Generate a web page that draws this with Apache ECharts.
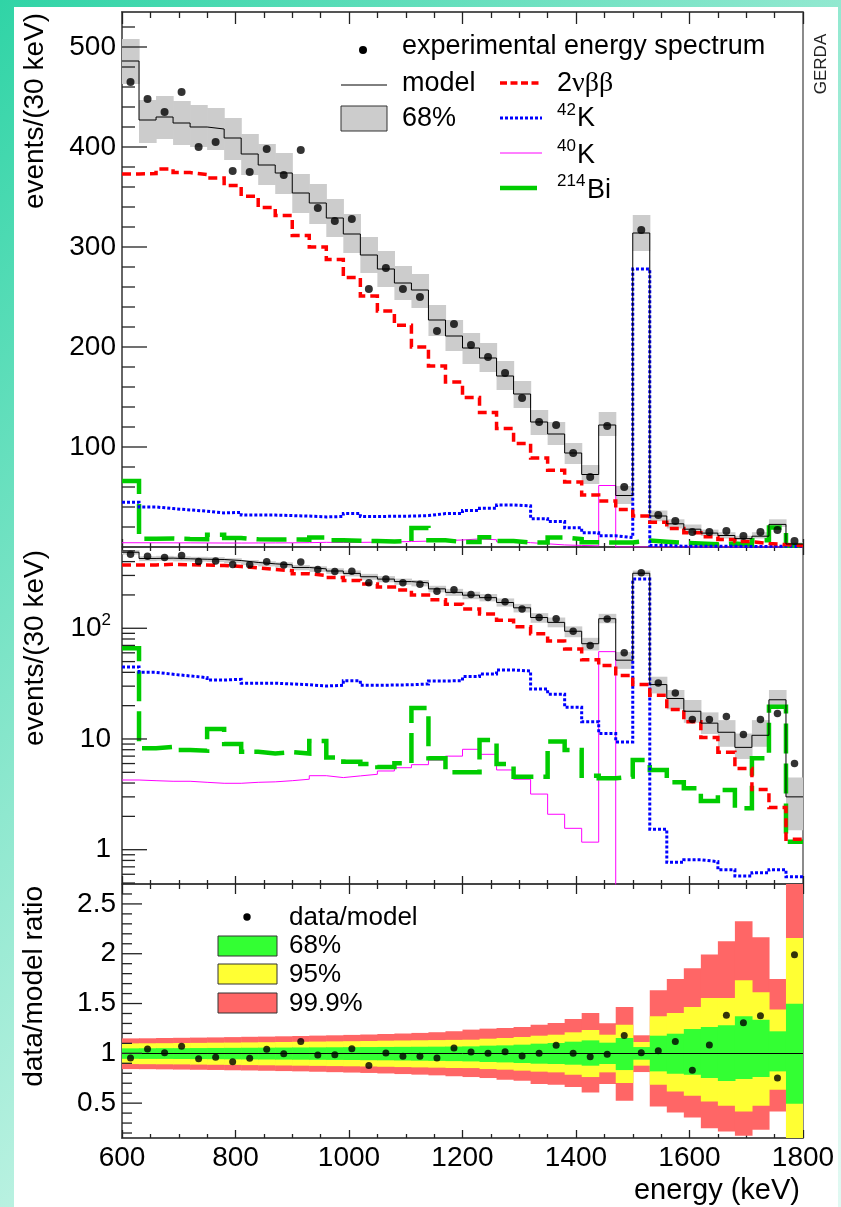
<!DOCTYPE html>
<html><head><meta charset="utf-8">
<script src="https://cdn.jsdelivr.net/npm/echarts@6/dist/echarts.min.js"></script>
<style>
html,body{margin:0;padding:0;overflow:hidden;}
#bg{position:absolute;left:0;top:0;width:841px;height:1207px;background:linear-gradient(135deg,#30d4a6 0%,#8fe8cf 40%,#cff6ea 70%,#e0f9f2 100%);}
#paper{position:absolute;left:14px;top:7px;width:824px;height:1200px;background:#fff;}
#chart{position:absolute;left:0;top:0;width:841px;height:1207px;}
</style></head><body>
<div id="bg"></div><div id="paper"></div><div id="chart"></div>
<script>
// ---------------- data ----------------
const binEdges = [600,630,660,690,720,750,780,810,840,870,900,930,960,990,1020,1050,1080,1110,1140,1170,1200,1230,1260,1290,1320,1350,1380,1410,1440,1470,1500,1530,1560,1590,1620,1650,1680,1710,1740,1770,1800];
const dataCounts = [465,448,435,455,400,405,376,375,398,372,397,339,326,328,258,279,258,250,216,223,202,190,174,149,125,122,94,70,121,60,317,32,26,15,15,16,11,15,17,6];
const modelCounts = [486,427,430,424,420,418,409,393,382,374,354,344,329,313,292,278,264,257,227,211,199,189,171,153,125,113,94,72.5,122,51.5,314,31,23.2,17.8,13.9,11.5,8.4,10.8,22.6,3.0];
const band68Hi = [508,447,451,446,442,439,429,413,403,394,373,363,348,333,310,296,281,273,242,227,214,204,186,166,137,125,104,82,135,61,332,36.5,27.7,22.5,17.4,14.8,11.2,14.8,27.7,4.5];
const band68Lo = [463,404,408,402,400,397,387,372,362,353,334,323,310,294,274,260,247,239,211,196,183,175,157,139,112,102,83,63,111,43,296,25.8,18.5,14.0,11.1,8.5,6.6,8.5,20.0,1.5];
const nu2bb = [373,373.4,378,374.4,372.4,369,361.4,350.7,339.4,331.4,311.4,300,287.4,269.4,251,236,221.7,200,181,165,149.4,134.4,118.4,103.4,89,76.7,65,52,46,37.5,31,24.8,18.5,14.3,10.3,7.6,5.4,3.5,2.4,1.24];
const k42 = [44.7,40,38.4,37.1,35.8,34.1,34.6,31.9,31.9,31.4,30.9,30.1,30.5,33.6,30.5,30.7,30.9,31.4,33.4,33.6,36.6,38.7,42,41.1,28.3,25.4,19.3,14.3,11.2,9.4,278,1.53,0.77,0.81,0.78,0.66,0.58,0.62,0.66,0.57];
const k40 = [4.26,4.2,4.15,4.15,4.06,3.98,3.98,4.06,4.1,4.2,4.33,4.66,4.48,4.64,4.8,5.14,5.5,5.86,6.45,7.0,8.07,7.27,5.25,4.33,3.18,2.09,1.56,1.17,61.5,0.001,0.001,0.001,0.001,0.001,0.001,0.001,0.001,0.001,0.001,0.001];
const bi214 = [65.9,8.24,8.5,7.94,7.84,12.3,9.0,7.67,7.4,7.6,7.4,9.6,6.8,6.24,5.94,5.58,6.03,19,6.7,5.0,5.0,9.8,5.94,4.57,4.57,9.5,7.94,4.66,4.41,4.57,6.45,5.25,4.06,3.59,2.75,3.46,2.37,6.7,19.6,1.18];
const ratioData = [0.953,1.043,1.006,1.07,0.946,0.96,0.916,0.95,1.04,0.996,1.12,0.983,0.986,1.046,0.879,1.003,0.97,0.97,0.953,1.053,1.013,1.0,1.016,0.973,1.0,1.08,1.0,0.966,0.99,1.18,1.006,1.026,1.12,0.829,1.083,1.382,1.308,1.378,0.752,1.99];
const ratioRedHi = [1.150,1.151,1.154,1.156,1.158,1.160,1.163,1.166,1.168,1.171,1.174,1.178,1.181,1.185,1.189,1.194,1.199,1.205,1.212,1.222,1.238,1.248,1.254,1.264,1.288,1.305,1.345,1.405,1.301,1.465,1.181,1.633,1.747,1.854,1.991,2.125,2.326,2.166,1.747,3.0];
const ratioYelHi = [1.100,1.101,1.102,1.104,1.105,1.107,1.108,1.110,1.112,1.114,1.116,1.118,1.120,1.122,1.124,1.127,1.129,1.131,1.133,1.135,1.137,1.147,1.154,1.164,1.177,1.187,1.211,1.234,1.187,1.288,1.114,1.372,1.405,1.465,1.556,1.556,1.733,1.613,1.439,2.159];
const ratioGrnHi = [1.050,1.051,1.052,1.052,1.053,1.054,1.055,1.056,1.057,1.058,1.059,1.060,1.061,1.062,1.063,1.064,1.065,1.066,1.067,1.068,1.070,1.077,1.080,1.087,1.097,1.104,1.117,1.130,1.107,1.154,1.063,1.177,1.197,1.244,1.264,1.281,1.372,1.338,1.221,1.499];
const ratioGrnLo = [0.945,0.944,0.944,0.943,0.942,0.941,0.940,0.939,0.938,0.937,0.936,0.935,0.934,0.933,0.931,0.930,0.928,0.926,0.924,0.922,0.919,0.913,0.909,0.903,0.896,0.893,0.886,0.876,0.893,0.832,0.936,0.819,0.795,0.785,0.752,0.722,0.742,0.762,0.819,0.494];
const ratioYelLo = [0.892,0.891,0.890,0.889,0.887,0.885,0.884,0.882,0.880,0.878,0.876,0.874,0.872,0.870,0.868,0.865,0.862,0.859,0.856,0.853,0.852,0.842,0.836,0.826,0.816,0.809,0.785,0.762,0.809,0.702,0.876,0.685,0.618,0.574,0.517,0.474,0.417,0.474,0.635,0.10];
const ratioRedLo = [0.842,0.841,0.839,0.837,0.835,0.833,0.830,0.828,0.825,0.822,0.819,0.815,0.811,0.807,0.803,0.798,0.792,0.786,0.779,0.770,0.762,0.752,0.735,0.725,0.692,0.685,0.661,0.608,0.692,0.524,0.812,0.467,0.407,0.357,0.249,0.216,0.172,0.233,0.417,0.05];
// tick values
const linMajorTicks = [100,200,300,400,500];
const linMinorTicks = [20,40,60,80,120,140,160,180,220,240,260,280,320,340,360,380,420,440,460,480,520];
const logMajorTicks = [1,10,100];
const logMinorTicks = [0.5,0.6,0.7,0.8,0.9,2,3,4,5,6,7,8,9,20,30,40,50,60,70,80,90,200,300,400,500];
const ratioMajorTicks = [0.5,1,1.5,2,2.5];
const ratioMinorTicks = [0.2,0.3,0.4,0.6,0.7,0.8,0.9,1.1,1.2,1.3,1.4,1.6,1.7,1.8,1.9,2.1,2.2,2.3,2.4,2.6];

// ---------------- helpers ----------------
const FONT = 'Liberation Sans';
const centers = dataCounts.map((_, i) => (binEdges[i] + binEdges[i + 1]) / 2);
function stepData(vals) {
  const d = vals.map((v, i) => [binEdges[i], v]);
  d.push([binEdges[vals.length], vals[vals.length - 1]]);
  return d;
}
function pointData(vals) { return vals.map((v, i) => [centers[i], v]); }
function bandSeries(p, lo, hi, color, z) {
  return {
    type: 'custom', xAxisIndex: 2 * p, yAxisIndex: p, z: z, silent: true, animation: false,
    data: lo.map((l, i) => [binEdges[i], binEdges[i + 1], l, hi[i]]),
    encode: { x: [0, 1], y: [2, 3] },
    renderItem: function (params, api) {
      const a = api.coord([api.value(0), api.value(3)]);
      const b = api.coord([api.value(1), api.value(2)]);
      const cs = params.coordSys;
      const r = echarts.graphic.clipRectByRect(
        { x: a[0], y: a[1], width: b[0] - a[0] + 0.6, height: b[1] - a[1] },
        { x: cs.x, y: cs.y, width: cs.width, height: cs.height });
      return r ? { type: 'rect', shape: r, style: { fill: color } } : null;
    }
  };
}
function tickSeries(p, vals, len) {
  return {
    type: 'custom', xAxisIndex: 2 * p, yAxisIndex: p, z: 30, silent: true, animation: false,
    data: vals.map(v => [600, v]), encode: { x: 0, y: 1 },
    renderItem: function (params, api) {
      const q = api.coord([api.value(0), api.value(1)]);
      return { type: 'line', shape: { x1: q[0], y1: q[1], x2: q[0] + len, y2: q[1] },
               style: { stroke: '#222', lineWidth: 1.3 } };
    }
  };
}
function stepSeries(p, vals, color, width, dash, z) {
  return {
    type: 'line', xAxisIndex: 2 * p, yAxisIndex: p, data: stepData(vals), step: 'end',
    symbol: 'none', z: z, silent: true, animation: false, clip: true,
    lineStyle: { color: color, width: width, type: dash || 'solid', cap: 'butt', join: 'miter' }
  };
}
function pointSeries(p, vals, size) {
  return {
    type: 'scatter', xAxisIndex: 2 * p, yAxisIndex: p, data: pointData(vals),
    symbol: 'circle', symbolSize: size, itemStyle: { color: '#000' }, z: 25, silent: true, animation: false
  };
}
function xAx(g, pos, majLen, minLen, labels) {
  return {
    type: 'value', gridIndex: g, position: pos, min: 600, max: 1800, interval: 200,
    axisLine: { show: true, onZero: false, lineStyle: { color: '#444', width: 1.5 } },
    axisTick: { show: true, inside: true, length: majLen, lineStyle: { color: '#222', width: 1.3 } },
    minorTick: { show: true, splitNumber: 4, length: minLen, lineStyle: { color: '#222', width: 1.3 } },
    splitLine: { show: false }, minorSplitLine: { show: false },
    axisLabel: labels ? { show: true, fontFamily: FONT, fontSize: 28, color: '#000', margin: 6,
      formatter: v => String(Math.round(v)) } : { show: false }
  };
}
const ylineStyle = { show: true, onZero: false, lineStyle: { color: '#666', width: 2 } };

const panelGrid = (top, h) => ({ left: 122, top: top, width: 681, height: h, show: true,
  borderColor: '#666', borderWidth: 1.5, backgroundColor: 'transparent', containLabel: false, outerBoundsMode: 'none' });

// ---------------- graphic (legends, titles) ----------------
function txt(x, y, s, size, extra) {
  return Object.assign({ type: 'text', x: x, y: y, silent: true,
    style: Object.assign({ text: s, fontFamily: FONT, fontSize: size, fill: '#000', align: 'left', verticalAlign: 'middle' }, extra || {}) });
}
function rtxt(x, y, s, size, rot, align, color) {
  return { type: 'text', x: x, y: y, rotation: rot, silent: true,
    style: { text: s, fontFamily: FONT, fontSize: size, fill: color || '#000', align: align, verticalAlign: 'middle' } };
}
function seg(x1, y1, x2, y2, color, w, dash) {
  return { type: 'line', silent: true, shape: { x1: x1, y1: y1, x2: x2, y2: y2 },
    style: { stroke: color, lineWidth: w, lineDash: dash || null } };
}
const graphics = [
  // y-axis titles
  rtxt(35, 13, 'events/(30 keV)', 28, Math.PI / 2, 'right'),
  rtxt(35, 550, 'events/(30 keV)', 28, Math.PI / 2, 'right'),
  rtxt(34, 886, 'data/model ratio', 28, Math.PI / 2, 'right'),
  txt(800, 1191, 'energy (keV)', 29, { align: 'right' }),
  rtxt(821, 64, 'GERDA', 17, Math.PI / 2, 'center', '#222'),
  // top legend
  { type: 'circle', silent: true, shape: { cx: 363, cy: 50, r: 4 }, style: { fill: '#000' } },
  txt(402, 47, 'experimental energy spectrum', 27),
  seg(341, 85, 387, 85, '#000', 1),
  txt(402, 84, 'model', 27),
  { type: 'rect', silent: true, shape: { x: 341, y: 106, width: 46, height: 25 }, style: { fill: '#cccccc', stroke: '#333', lineWidth: 1 } },
  txt(402, 119, '68%', 27),
  seg(500, 83, 540, 83, '#ff0000', 3.5, [7, 3.5]),
  txt(557, 84, '2', 27),
  txt(572, 84, 'νββ', 28, { fontFamily: 'Liberation Serif' }),
  seg(500, 118, 542, 118, '#0000ff', 3, [3, 2]),
  txt(557, 110, '42', 17),
  txt(577, 119, 'K', 27),
  seg(500, 153, 542, 153, '#ff00ff', 1),
  txt(557, 146, '40', 17),
  txt(577, 155.5, 'K', 27),
  seg(500, 188, 537, 188, '#00cc00', 4.5),
  txt(557, 181, '214', 17),
  txt(587, 190.5, 'Bi', 27),
  // bottom legend
  { type: 'circle', silent: true, shape: { cx: 247, cy: 917, r: 3.7 }, style: { fill: '#000' } },
  txt(289, 918, 'data/model', 26),
  { type: 'rect', silent: true, shape: { x: 218, y: 936, width: 59, height: 20 }, style: { fill: '#33ff33', stroke: '#333', lineWidth: 1 } },
  txt(289, 946, '68%', 26),
  { type: 'rect', silent: true, shape: { x: 218, y: 964, width: 59, height: 20 }, style: { fill: '#ffff33', stroke: '#333', lineWidth: 1 } },
  txt(289, 975, '95%', 26),
  { type: 'rect', silent: true, shape: { x: 218, y: 993, width: 59, height: 20 }, style: { fill: '#ff6666', stroke: '#333', lineWidth: 1 } },
  txt(289, 1003.5, '99.9%', 26)
];

// ---------------- option ----------------
const option = {
  animation: false,
  backgroundColor: 'transparent',
  grid: [panelGrid(12, 535), panelGrid(547, 337), panelGrid(884, 254)],
  xAxis: [
    xAx(0, 'bottom', 8, 4, false), xAx(0, 'top', 12, 6, false),
    xAx(1, 'bottom', 8, 4, false), xAx(1, 'top', 8, 4, false),
    xAx(2, 'bottom', 8, 4, true), xAx(2, 'top', 10, 5, false)
  ],
  yAxis: [
    { type: 'value', gridIndex: 0, min: 0, max: 535, interval: 100, axisLine: ylineStyle,
      axisTick: { show: false }, splitLine: { show: false },
      axisLabel: { fontFamily: FONT, fontSize: 28, color: '#000', margin: 6,
        formatter: v => (v > 0 && Math.abs(v % 100) < 1e-6) ? String(v) : '' } },
    { type: 'log', logBase: 10, gridIndex: 1, min: 0.49, max: 542, axisLine: ylineStyle,
      axisTick: { show: false }, splitLine: { show: false }, minorTick: { show: false },
      axisLabel: { fontFamily: FONT, fontSize: 28, color: '#000', margin: 11,
        formatter: function (v) {
          const l = Math.log10(v);
          if (Math.abs(l - Math.round(l)) > 1e-6) return '';
          const e = Math.round(l);
          if (e === 2) return '{b|10}{s|2}';
          return '{b|' + String(Math.round(Math.pow(10, e))) + '}';
        },
        rich: { b: { fontFamily: FONT, fontSize: 28, lineHeight: 32, color: '#000' },
                s: { fontFamily: FONT, fontSize: 17, lineHeight: 17, verticalAlign: 'top', color: '#000' } } } },
    { type: 'value', gridIndex: 2, min: 0.15, max: 2.7, interval: 0.05, axisLine: ylineStyle,
      axisTick: { show: false }, splitLine: { show: false },
      axisLabel: { fontFamily: FONT, fontSize: 28, color: '#000', margin: 6,
        formatter: function (v) {
          const r = Math.round(v * 100) / 100;
          return Math.abs(r * 2 - Math.round(r * 2)) < 1e-6 ? String(r) : '';
        } } }
  ],
  graphic: graphics,
  series: [
    // ---- top panel (linear)
    bandSeries(0, band68Lo, band68Hi, '#cccccc', 1),
    stepSeries(0, k40, '#ff00ff', 1, null, 3),
    stepSeries(0, bi214, '#00cc00', 4.5, [30, 10], 4),
    stepSeries(0, k42, '#0000ff', 3, [3, 2], 5),
    stepSeries(0, nu2bb, '#ff0000', 3.5, [9, 5], 6),
    stepSeries(0, modelCounts, '#000', 1, null, 7),
    pointSeries(0, dataCounts, 8),
    tickSeries(0, linMajorTicks, 25), tickSeries(0, linMinorTicks, 13),
    // ---- middle panel (log)
    bandSeries(1, band68Lo, band68Hi, '#cccccc', 1),
    stepSeries(1, k40, '#ff00ff', 1, null, 3),
    stepSeries(1, bi214, '#00cc00', 4.5, [30, 10], 4),
    stepSeries(1, k42, '#0000ff', 3, [3, 2], 5),
    stepSeries(1, nu2bb, '#ff0000', 3.5, [9, 5], 6),
    stepSeries(1, modelCounts, '#000', 1, null, 7),
    pointSeries(1, dataCounts, 7.5),
    tickSeries(1, logMajorTicks, 25), tickSeries(1, logMinorTicks, 13),
    // ---- bottom panel (ratio)
    bandSeries(2, ratioRedLo, ratioRedHi, '#ff6666', 1),
    bandSeries(2, ratioYelLo, ratioYelHi, '#ffff33', 2),
    bandSeries(2, ratioGrnLo, ratioGrnHi, '#33ff33', 3),
    Object.assign(pointSeries(2, ratioData, 7), {
      markLine: { silent: true, symbol: ['none', 'none'], label: { show: false }, animation: false,
        lineStyle: { color: '#000', width: 1, type: 'solid' }, data: [{ yAxis: 1 }] } }),
    tickSeries(2, ratioMajorTicks, 20), tickSeries(2, ratioMinorTicks, 10)
  ]
};
const chart = echarts.init(document.getElementById('chart'), null, { renderer: 'canvas', width: 841, height: 1207 });
chart.setOption(option);
</script></body></html>
